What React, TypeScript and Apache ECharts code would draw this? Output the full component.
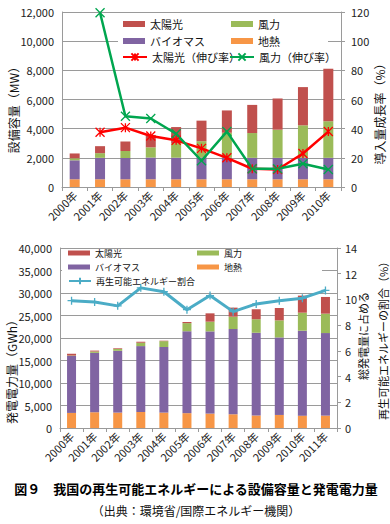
import React, { useEffect, useRef } from 'react';
import * as echarts from 'echarts';

const FONT = '"Noto Sans CJK JP", "Noto Sans", sans-serif';

// Top chart: installed capacity (MW) and growth rate (%)
const years1 = ['2000年', '2001年', '2002年', '2003年', '2004年', '2005年', '2006年', '2007年', '2008年', '2009年', '2010年'];
const geoCap = [530, 530, 530, 530, 530, 530, 530, 530, 530, 530, 530];
const bioCap = [1300, 1470, 1460, 1490, 1480, 1500, 1470, 1470, 1470, 1470, 1470];
const windCap = [140, 320, 480, 700, 1000, 1110, 1720, 1700, 1930, 2230, 2510];
const solarCap = [330, 480, 650, 850, 1100, 1410, 1530, 1930, 2140, 2620, 3600];
const solarGrowth = [null, 37.5, 40.7, 35, 32, 26.5, 20, 12.5, 12, 23, 38];
const windGrowth = [null, 119.5, 48.5, 47, 36.5, 18, 38, 12.5, 12.5, 16, 12];

// Bottom chart: generation (GWh) and renewable share (%)
const years2 = ['2000年', '2001年', '2002年', '2003年', '2004年', '2005年', '2006年', '2007年', '2008年', '2009年', '2010年', '2011年'];
const geoGen = [3350, 3500, 3420, 3560, 3420, 3300, 3200, 3050, 2800, 2900, 2750, 2750];
const bioGen = [12650, 13200, 13740, 14640, 14580, 18200, 18270, 18940, 18370, 17230, 18870, 18350];
const windGen = [100, 300, 400, 750, 1300, 1800, 2160, 2750, 2980, 3790, 4010, 4310];
const solarGen = [400, 200, 150, 220, 100, 250, 1850, 2010, 2220, 2750, 3790, 3710];
const shareRE = [9.9, 9.8, 9.5, 10.9, 10.6, 9.2, 10.3, 9.05, 9.65, 9.9, 10.1, 10.7];

const C_SOLAR = '#C0504D';
const C_WIND = '#9BBB59';
const C_BIO = '#8064A2';
const C_GEO = '#F79646';
const GRID_C = '#9a9a9a';

const SYM_STAR = 'path://M0,0L10,10M10,0L0,10M5,0L5,10';
const SYM_X = 'path://M0,0L10,10M10,0L0,10';
const SYM_PLUS = 'path://M5,0L5,10M0,5L10,5';

const fmt = (v: number) => v.toLocaleString('en-US');

function lg(name: string, left: number, cy: number, bar: boolean, fs: number, lh: number, iw: number, ih: number) {
  const o: any = {
    data: [name],
    left,
    top: cy - lh / 2,
    padding: 0,
    itemGap: 0,
    itemWidth: iw,
    itemHeight: ih,
    selectedMode: false,
    textStyle: { fontSize: fs, fontFamily: FONT, color: '#111', lineHeight: lh, height: lh },
  };
  if (bar) o.icon = 'rect';
  return o;
}

function yAxisBase(gridIndex: number, min: number, max: number, interval: number, right: boolean, split: boolean, margin: number, formatter?: any) {
  return {
    type: 'value',
    gridIndex,
    position: right ? 'right' : 'left',
    min,
    max,
    interval,
    axisLine: { show: true, lineStyle: { color: GRID_C, width: 1 } },
    axisTick: { show: right, length: 4, lineStyle: { color: GRID_C } },
    splitLine: { show: split, lineStyle: { color: GRID_C, width: 1 } },
    axisLabel: { fontSize: 11, fontFamily: FONT, color: '#222', margin, formatter },
  };
}

function xAxisBase(gridIndex: number, data: string[]) {
  return {
    type: 'category',
    gridIndex,
    data,
    axisLine: { show: true, lineStyle: { color: GRID_C, width: 1 } },
    axisTick: { show: true, length: 4, alignWithLabel: false, lineStyle: { color: GRID_C } },
    axisLabel: { rotate: 45, interval: 0, fontSize: 11, fontFamily: FONT, color: '#222', margin: 6 },
  };
}

function bar(name: string, data: number[], color: string, xi: number, yi: number, stack: string, w: number) {
  return {
    type: 'bar', name, data, stack, xAxisIndex: xi, yAxisIndex: yi, barWidth: w,
    itemStyle: { color }, z: 2,
  };
}

function line(name: string, data: (number | null)[], color: string, xi: number, yi: number, symbol: string, size: number, width: number) {
  return {
    type: 'line', name, data, xAxisIndex: xi, yAxisIndex: yi,
    symbol, symbolSize: size, showSymbol: true, connectNulls: false,
    lineStyle: { color, width },
    itemStyle: { color, borderColor: color, borderWidth: 1.3 },
    z: 3,
  };
}

function vtext(text: string, x: number, y: number, fs: number) {
  return {
    type: 'text', x, y, rotation: Math.PI / 2, z: 10,
    style: { text, fontSize: fs, fontFamily: FONT, fill: '#111', align: 'center', verticalAlign: 'middle' },
  };
}

const option: any = {
  animation: false,
  backgroundColor: '#fff',
  grid: [
    { left: 62, top: 12, width: 279, height: 175 },
    { left: 60, top: 248, width: 277, height: 180 },
  ],
  xAxis: [xAxisBase(0, years1), xAxisBase(1, years2)],
  yAxis: [
    yAxisBase(0, 0, 12000, 2000, false, true, 8, fmt),
    yAxisBase(0, 0, 120, 20, true, false, 10),
    yAxisBase(1, 0, 40000, 5000, false, true, 8, fmt),
    yAxisBase(1, 0, 14, 2, true, false, 8),
  ],
  legend: [
    lg('太陽光', 123, 24, true, 11, 14, 22, 6),
    lg('バイオマス', 123, 41, true, 11, 14, 22, 6),
    lg('太陽光（伸び率）', 122, 57, false, 11, 14, 24, 9),
    lg('風力', 231, 24, true, 11, 14, 22, 6),
    lg('地熱', 231, 41, true, 11, 14, 22, 6),
    lg('風力（伸び率）', 229, 57, false, 11, 14, 24, 9),
    lg('太陽光', 68, 253, true, 9, 12, 22, 5),
    lg('バイオマス', 68, 267, true, 9, 12, 22, 5),
    lg('再生可能エネルギー割合', 68, 281, false, 9, 12, 22, 8),
    lg('風力', 197, 253, true, 9, 12, 22, 5),
    lg('地熱', 197, 267, true, 9, 12, 22, 5),
  ],
  graphic: [
    { type: 'rect', z: 1, shape: { x: 118, y: 14, width: 210, height: 53 }, style: { fill: '#fff' } },
    { type: 'rect', z: 1, shape: { x: 62, y: 250, width: 260, height: 38 }, style: { fill: '#fff' } },
    vtext('設備容量（MW）', 13, 107, 12),
    vtext('導入量成長率（%）', 379, 111, 12),
    vtext('発電電力量（GWh）', 11, 369, 12),
    vtext('総発電量に占める', 363, 336, 11),
    vtext('再生可能エネルギーの割合（%）', 383, 338, 11),
    {
      type: 'text', x: 196, y: 488, z: 10,
      style: { text: '図９　我国の再生可能エネルギーによる設備容量と発電電力量', fontSize: 13, fontWeight: 'bold', fontFamily: FONT, fill: '#000', align: 'center', verticalAlign: 'middle' },
    },
    {
      type: 'text', x: 196, y: 510, z: 10,
      style: { text: '（出典：環境省/国際エネルギー機関）', fontSize: 12, fontFamily: FONT, fill: '#111', align: 'center', verticalAlign: 'middle' },
    },
  ],
  series: [
    bar('地熱', geoCap, C_GEO, 0, 0, 'cap', 10),
    bar('バイオマス', bioCap, C_BIO, 0, 0, 'cap', 10),
    bar('風力', windCap, C_WIND, 0, 0, 'cap', 10),
    bar('太陽光', solarCap, C_SOLAR, 0, 0, 'cap', 10),
    line('太陽光（伸び率）', solarGrowth, '#FF0000', 0, 1, SYM_STAR, 9, 2.5),
    line('風力（伸び率）', windGrowth, '#00A64F', 0, 1, SYM_X, 9, 2.5),
    bar('地熱', geoGen, C_GEO, 1, 2, 'gen', 9),
    bar('バイオマス', bioGen, C_BIO, 1, 2, 'gen', 9),
    bar('風力', windGen, C_WIND, 1, 2, 'gen', 9),
    bar('太陽光', solarGen, C_SOLAR, 1, 2, 'gen', 9),
    line('再生可能エネルギー割合', shareRE, '#4BACC6', 1, 3, SYM_PLUS, 8, 3),
  ],
};

export default function App() {
  const ref = useRef<HTMLDivElement>(null);
  useEffect(() => {
    const chart = echarts.init(ref.current!, null, { renderer: 'svg' });
    chart.setOption(option);
    return () => chart.dispose();
  }, []);
  return (
    <div
      ref={ref}
      style={{ position: 'absolute', left: 0, top: 0, width: 390, height: 524, background: '#fff' }}
    />
  );
}
